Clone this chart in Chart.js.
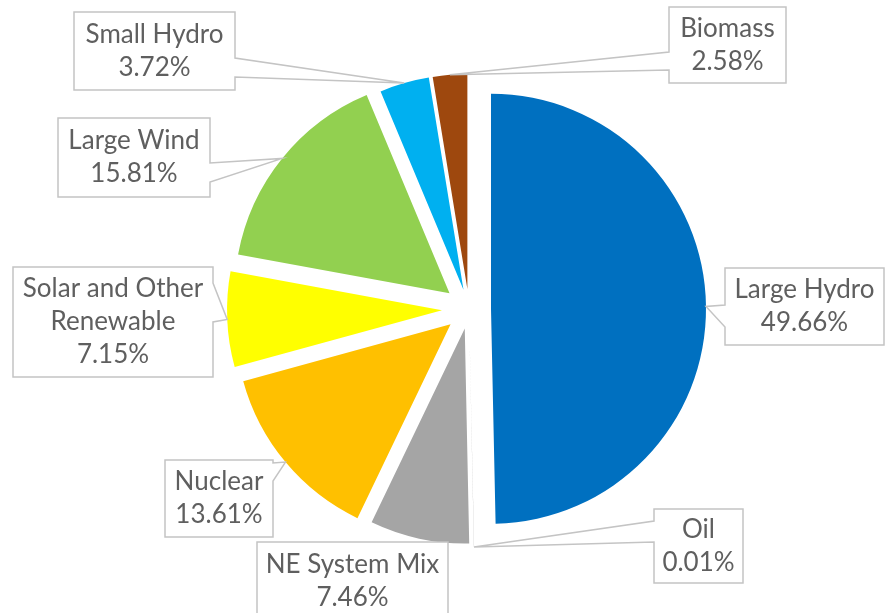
<!DOCTYPE html>
<html><head><meta charset="utf-8">
<script src="https://cdn.jsdelivr.net/npm/chart.js@4"></script>
<style>html,body{margin:0;padding:0;background:#fff;}canvas{display:block;}</style>
</head><body>
<canvas id="c" width="886" height="613"></canvas>
<script>
// ---- data ----
const categories = ['Large Hydro', 'Oil', 'NE System Mix', 'Nuclear', 'Solar and Other Renewable', 'Large Wind', 'Small Hydro', 'Biomass'];
const shares = [49.66, 0.01, 7.46, 13.61, 7.15, 15.81, 3.72, 2.58];

// ---- styles / layout ----
const sliceColors = ['#0070C0', '#7F7F7F', '#A5A5A5', '#FFC000', '#FFFF00', '#92D050', '#00B0F0', '#9E480E'];
const explodeDist = [22, 23, 20, 24, 27, 25, 20, 20];
const calloutBoxes = [
  {x0: 725, y0: 268, x1: 884, y1: 345, side: 'left',  b0: 305, b1: 327},
  {x0: 654, y0: 509, x1: 743, y1: 583, side: 'left',  b0: 521, b1: 542},
  {x0: 257, y0: 542, x1: 448, y1: 620, side: null},
  {x0: 165, y0: 460, x1: 273, y1: 537, side: 'right', b0: 463, b1: 481},
  {x0: 13,  y0: 267, x1: 213, y1: 377, side: 'right', b0: 283, b1: 322},
  {x0: 58,  y0: 118, x1: 210, y1: 197, side: 'right', b0: 163, b1: 182},
  {x0: 74,  y0: 12,  x1: 235, y1: 90,  side: 'right', b0: 58,  b1: 77},
  {x0: 669, y0: 7,   x1: 786, y1: 83,  side: 'left',  b0: 52,  b1: 70}
];
const LABEL_FONT = '26px Lato, "Liberation Sans", sans-serif';
const LABEL_COLOR = '#5F5F5F';
const BOX_STROKE = '#C4C4C4';
const LINE_H = 33;

const explodePlugin = {
  id: 'explode',
  beforeDatasetsDraw(chart) {
    const ca = chart.chartArea;
    const cx = (ca.left + ca.right) / 2, cy = (ca.top + ca.bottom) / 2;
    chart.getDatasetMeta(0).data.forEach((arc, i) => {
      const mid = (arc.startAngle + arc.endAngle) / 2;
      const d = explodeDist[i] || 0;
      arc.x = cx + Math.cos(mid) * d;
      arc.y = cy + Math.sin(mid) * d;
    });
  }
};

function wrapWords(ctx, text, maxW) {
  const words = text.split(' ');
  const lines = [];
  let cur = '';
  words.forEach(w => {
    const t = cur ? cur + ' ' + w : w;
    if (cur && ctx.measureText(t).width > maxW) { lines.push(cur); cur = w; }
    else cur = t;
  });
  if (cur) lines.push(cur);
  return lines;
}

const calloutPlugin = {
  id: 'callouts',
  afterDatasetsDraw(chart) {
    const ctx = chart.ctx;
    const meta = chart.getDatasetMeta(0);
    ctx.save();
    meta.data.forEach((arc, i) => {
      const b = calloutBoxes[i];
      if (!b) return;
      const mid = (arc.startAngle + arc.endAngle) / 2;
      const tx = arc.x + Math.cos(mid) * arc.outerRadius;
      const ty = arc.y + Math.sin(mid) * arc.outerRadius;
      ctx.beginPath();
      if (b.side === 'right') {
        ctx.moveTo(b.x0, b.y0); ctx.lineTo(b.x1, b.y0); ctx.lineTo(b.x1, b.b0);
        ctx.lineTo(tx, ty); ctx.lineTo(b.x1, b.b1); ctx.lineTo(b.x1, b.y1); ctx.lineTo(b.x0, b.y1);
      } else if (b.side === 'left') {
        ctx.moveTo(b.x0, b.y0); ctx.lineTo(b.x1, b.y0); ctx.lineTo(b.x1, b.y1); ctx.lineTo(b.x0, b.y1);
        ctx.lineTo(b.x0, b.b1); ctx.lineTo(tx, ty); ctx.lineTo(b.x0, b.b0);
      } else {
        ctx.rect(b.x0, b.y0, b.x1 - b.x0, b.y1 - b.y0);
      }
      ctx.closePath();
      ctx.fillStyle = '#FFFFFF';
      ctx.fill();
      ctx.lineWidth = 1.5;
      ctx.strokeStyle = BOX_STROKE;
      ctx.stroke();

      ctx.font = LABEL_FONT;
      ctx.fillStyle = LABEL_COLOR;
      ctx.textAlign = 'center';
      ctx.textBaseline = 'middle';
      const lines = wrapWords(ctx, chart.data.labels[i], b.x1 - b.x0 - 8);
      lines.push(chart.data.datasets[0].data[i].toFixed(2) + '%');
      const ccx = (b.x0 + b.x1) / 2, ccy = (b.y0 + b.y1) / 2;
      const startY = ccy - (lines.length - 1) * LINE_H / 2;
      lines.forEach((ln, k) => ctx.fillText(ln, ccx, startY + k * LINE_H));
    });
    ctx.restore();
  }
};

new Chart(document.getElementById('c'), {
  type: 'pie',
  data: {
    labels: categories,
    datasets: [{
      data: shares,
      backgroundColor: sliceColors,
      borderWidth: 0
    }]
  },
  options: {
    responsive: false,
    animation: false,
    events: [],
    radius: 215,
    layout: {padding: {left: 52, right: 0, top: 5, bottom: 0}},
    plugins: {legend: {display: false}, tooltip: {enabled: false}}
  },
  plugins: [explodePlugin, calloutPlugin]
});
</script>
</body></html>
